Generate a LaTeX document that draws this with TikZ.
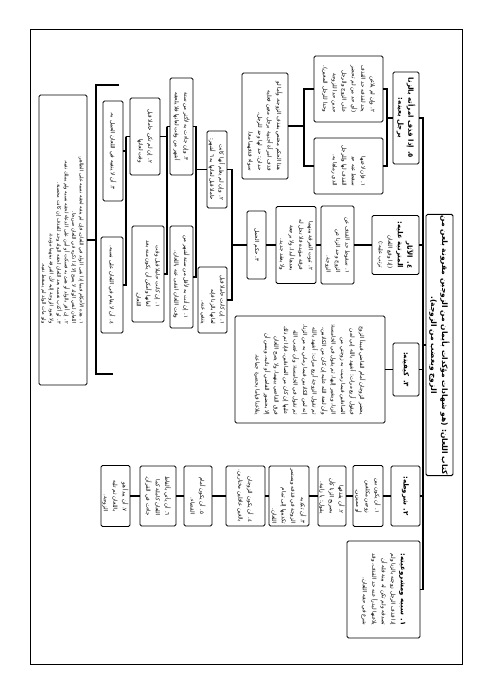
\documentclass[tikz,border=0pt]{standalone}
\usepackage{fontspec}
\newfontfamily\arabicfont[Script=Arabic]{DejaVu Sans}
\TeXXeTstate=1
\newcommand{\rl}[1]{\beginR#1\endR}
\newcommand{\hd}[1]{{\bfseries\fontsize{7}{10}\selectfont#1}}
\tikzset{
  box/.style={draw, line width=0.9pt, rounded corners=1.5pt, rotate=-90, inner sep=1pt,
    align=right, font=\arabicfont\fontsize{5.5}{9.5}\selectfont},
  head/.style={box, align=center, font=\arabicfont\bfseries\fontsize{7}{10}\selectfont},
  smallbox/.style={box, font=\arabicfont\fontsize{5}{7.5}\selectfont},
  link/.style={line width=1.1pt},
}

\begin{document}
\begin{tikzpicture}[x=1pt, y=-1pt]
  \useasboundingbox (0,0) rectangle (491,694);
  \draw[line width=0.8pt] (30,29) rectangle (462,664);

  % Define nodes
  \node[head, minimum width=256, minimum height=27, font=\arabicfont\bfseries\fontsize{7.5}{11}\selectfont] (title) at (439.5,345)
    {\rl{كتاب اللعان: (هو شهادات مؤكدات بأيمان من الزوجين مقرونة بلعن من}\\\rl{الزوج وبغضب من الزوجة).}};

  \node[head, minimum width=92, minimum height=26] (qadhf) at (406,118)
    {\rl{٥. إذا قذف امرأته بالزنا}\\\rl{برجل بعينه:}};
  \node[box, minimum width=66, minimum height=69] (qadhf2) at (348.5,89)
    {\rl{٢. وإن لم يلاعن}\\\rl{يحد لقذفه حد القذف}\\\rl{(أي حد من لم تحضر}\\\rl{على الزوج والرجل}\\\rl{حدين حدا للزوجة}\\\rl{وحدا للرجل المعين).}};
  \node[box, minimum width=56, minimum height=69] (qadhf1) at (348.5,166)
    {\rl{١. فإن لاعنها}\\\rl{سقط عنه حد}\\\rl{القذف لها وللرجل}\\\rl{الذي رماها به.}};
  \node[box, minimum width=106, minimum height=46] (hukm) at (265,126)
    {\rl{هذا الحكم مختص بقذف الزوجة، وأما لو}\\\rl{قذف امرأة أجنبية برجل معين فعليه}\\\rl{حدان: حد لها وحد للرجل،}\\\rl{سواء قذفهما معا.}};

  \node[box, minimum width=59, minimum height=47] (athar) at (395.5,245)
    {\rl{\hd{٤. الآثار}}\\\rl{\hd{المترتبة عليه:}}\\\rl{(إذا وقع اللعان}\\\rl{ترتب عليه:)}};
  \node[box, minimum width=78, minimum height=33] (athar1) at (337.5,245)
    {\rl{١. سقوط حد القذف عن}\\\rl{الزوج وحد الزنا عن}\\\rl{الزوجة.}};
  \node[box, minimum width=77, minimum height=40] (athar2) at (296,245)
    {\rl{٢. ثبوت الفرقة بينهما}\\\rl{فرقة مؤبدة فلا تحل له}\\\rl{بعدها أبدا، ولا برجعة}\\\rl{ولا بعقد جديد.}};
  \node[box, minimum width=68, minimum height=19] (athar3) at (256.5,245)
    {\rl{٣. حكم الحمل}};
  \node[box, minimum width=77, minimum height=20] (haml2) at (217,169.5)
    {\rl{٢. وإن لم يعلم أنها كانت}\\\rl{حاملا قبل لعانها به ٦ أشهر:}};
  \node[box, minimum width=66, minimum height=29] (haml1) at (212.5,300)
    {\rl{١. إن كانت حاملا قبل}\\\rl{لعانها بالزنا فإنه}\\\rl{ينتفي عنه.}};
  \node[box, minimum width=97, minimum height=23] (haml23) at (181.5,126.5)
    {\rl{٣. وإن جاءت به لأكثر من ستة}\\\rl{أشهر من وقت لعانها فلا يلحقه}};
  \node[box, minimum width=102, minimum height=23] (haml21) at (181.5,277)
    {\rl{١. إن أتت به لأقل من ستة أشهر من}\\\rl{وقت اللعان انتفى عنه باللعان.}};
  \node[box, minimum width=77, minimum height=30] (haml232) at (145,136.5)
    {\rl{٢. إن لم تكن حاملا قبل}\\\rl{وقت لعانها}};
  \node[box, minimum width=96, minimum height=32] (haml231) at (148,274)
    {\rl{١. إن كانت حاملا قبل وقت}\\\rl{لعانها وأمكن أن يكون منه بعد}\\\rl{اللعان.}};
  \node[box, minimum width=100, minimum height=20] (haml2323) at (113,151)
    {\rl{٣. أن لا ينفيه في اللعان الحمل به.}};
  \node[box, minimum width=96, minimum height=22] (haml2324) at (112,285)
    {\rl{٤. أن لا يقام في اللعان على نسبه.}};
  \node[smallbox, minimum width=290, minimum height=48] (tanbih) at (63,240)
    {\rl{١. هذه الأحكام فيما إذا نفى الولد في اللعان، فإن لم ينفه لحقه نسبه على الظاهر.}\\
     \rl{اللعان لنفي الولد لا يصح إلا إذا ذكره في اللعان صريحا.}\\
     \rl{٢. إن أقر بالولد أو هنئ به فسكت أو أمن على الدعاء لحقه نسبه ولم يملك نفيه.}\\
     \rl{٣. لو أكذب نفسه بعد اللعان لحقه الولد وحد للقذف إن كانت محصنة.}\\
     \rl{ولا تعود الزوجة إليه لأن الفرقة بينهما مؤبدة.}\\
     \rl{ولو مات الولد لم يسقط نفيه.}};

  \node[head, minimum width=53, minimum height=26] (kayfiya) at (406,369.5)
    {\rl{٣. كيفيته:}};
  \node[box, minimum width=107, minimum height=150] (sifa) at (310,369.5)
    {\rl{يحضر الزوجان أمام القاضي فيبدأ الزوج}\\\rl{فيقول أربع مرات: أشهد بالله إني لمن}\\\rl{الصادقين فيما رميت به زوجتي من}\\\rl{الزنا، ويشير إليها، ثم يقول في الخامسة:}\\\rl{وأن لعنة الله عليه إن كان من الكاذبين،}\\\rl{ثم تقول الزوجة أربع مرات: أشهد بالله}\\\rl{إنه لمن الكاذبين فيما رماني به من الزنا،}\\\rl{ثم تقول في الخامسة: وأن غضب الله}\\\rl{عليها إن كان من الصادقين، فإذا تم ذلك}\\\rl{فرق القاضي بينهما، ولا يصح اللعان}\\\rl{إلا بحضور القاضي أو نائبه، ويسن أن}\\\rl{يتلاعنا قياما بحضرة جماعة.}};

  \node[head, minimum width=60, minimum height=29] (shurut) at (405.5,496)
    {\rl{٢. شروطه:}};
  \node[box, minimum width=61, minimum height=30] (shart1) at (368,496)
    {\rl{١. أن يكون بين}\\\rl{زوجين مكلفين}\\\rl{أو مميزين.}};
  \node[box, minimum width=60, minimum height=28] (shart2) at (332,496)
    {\rl{٢. أن يقذفها}\\\rl{بصريح الزنا كأن}\\\rl{يقول: يا زانية.}};
  \node[box, minimum width=60, minimum height=40] (shart3) at (289,496)
    {\rl{٣. أن تكذبه}\\\rl{الزوجة في قذفه ويستمر}\\\rl{تكذيبها إلى تمام}\\\rl{اللعان.}};
  \node[box, minimum width=60, minimum height=39] (shart4) at (245.5,496)
    {\rl{٤. أن يكون الزوجان}\\\rl{بالغين عاقلين مختارين.}};
  \node[box, minimum width=60, minimum height=28] (shart5) at (198,496)
    {\rl{٥. أن يكون أمام}\\\rl{القضاء.}};
  \node[box, minimum width=60, minimum height=36] (shart6) at (158,496)
    {\rl{٦. أن يأتي بألفاظ}\\\rl{اللعان كاملة كما}\\\rl{جاءت في القرآن.}};
  \node[box, minimum width=61, minimum height=29] (shart7) at (115.5,496)
    {\rl{٧. أن يبدأ هو}\\\rl{باللعان ثم تليه}\\\rl{الزوجة.}};

  \node[box, minimum width=97, minimum height=73] (sabab) at (383.5,589.5)
    {\rl{\hd{١. سببه ومشروعيته:}}\\\rl{إذا قذف الرجل زوجته بالزنا ولم}\\\rl{تصدقه ولم تكن له بينة فله أن}\\\rl{يلاعنها ليدرأ عنه حد القذف، وقد}\\\rl{شرع في حقه اللعان.}};

  % Coordinates for the forks
  \coordinate (spine) at (423,589.5);
  \coordinate (fq) at (387,118);
  \coordinate (fh) at (304,126);
  \coordinate (f3) at (232,245);
  \coordinate (f2) at (196,169.5);
  \coordinate (f23) at (167,126.5);
  \coordinate (f232) at (126,136.5);
  \coordinate (brA) at (119,85);
  \coordinate (brB) at (96,85);
  \coordinate (brC) at (96,374);
  \coordinate (brD) at (113,374);

  % Connectors
  \draw[link] (qadhf.north) -| (spine) -- (sabab.north);
  \draw[link] (title.south) -- (title.south -| spine);
  \draw[link] (athar.north) -- (athar.north -| spine);
  \draw[link] (kayfiya.north) -- (kayfiya.north -| spine);
  \draw[link] (shurut.north) -- (shurut.north -| spine);

  \draw[link] (qadhf.south) -- (fq);
  \draw[link] (qadhf2.north) -| (fq) |- (qadhf1.north);
  \draw[link] (qadhf2.south) -| (fh) |- (qadhf1.south);
  \draw[link] (fh) -- (hukm.north);

  \draw[link] (athar.south) -- (athar1.north);
  \draw[link] (athar1.south) -- (athar2.north);
  \draw[link] (athar2.south) -- (athar3.north);
  \draw[link] (athar3.south) -- (f3);
  \draw[link] (haml2.north) -| (f3) |- (haml1.north);
  \draw[link] (haml2.south) -- (f2);
  \draw[link] (haml23.north) -| (f2) |- (haml21.north);
  \draw[link] (haml23.south) -- (f23);
  \draw[link] (haml232.north) -| (f23) |- (haml231.north);
  \draw[link] (haml232.south) -- (f232);
  \draw[link] (haml2323.north) -| (f232) |- (haml2324.north);
  \draw[link] (brA) -- (brB) -- (brC) -- (brD);
  \draw[link] (tanbih.north) -- (tanbih.north -| brB);

  \draw[link] (kayfiya.south) -- (sifa.north);

  \draw[link] (shurut.south) -- (shart1.north);
  \draw[link] (shart1.south) -- (shart2.north);
  \draw[link] (shart2.south) -- (shart3.north);
  \draw[link] (shart3.south) -- (shart4.north);
  \draw[link] (shart4.south) -- (shart5.north);
  \draw[link] (shart5.south) -- (shart6.north);
  \draw[link] (shart6.south) -- (shart7.north);
\end{tikzpicture}
\end{document}
